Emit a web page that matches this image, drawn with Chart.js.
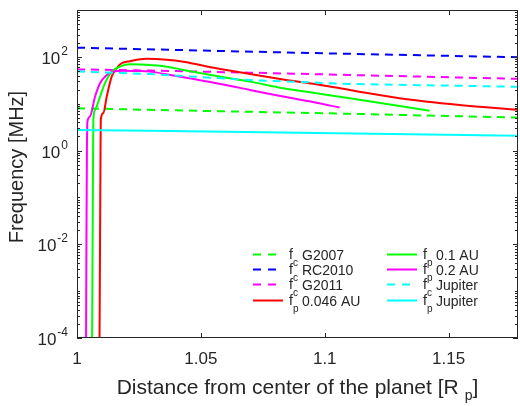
<!DOCTYPE html>
<html>
<head>
<meta charset="utf-8">
<script src="https://cdn.jsdelivr.net/npm/chart.js@4/dist/chart.umd.min.js"></script>
<style>
html, body { margin: 0; padding: 0; background: #fff; }
canvas { display: block; }
</style>
</head>
<body>
<canvas id="freqChart" width="520" height="406"></canvas>
<script>
// axis limits
const xLimits = [1, 1.178];
const yLimits = [1e-4, 1e3];
const xTickValues = [1, 1.05, 1.1, 1.15];
const xTickLabels = ['1', '1.05', '1.1', '1.15'];
const yTickExponents = [-4, -2, 0, 2];

// cutoff frequencies f_c (dashed)
const xFcG2007 = [1, 1.0294, 1.1101, 1.178];
const yFcG2007 = [8.0, 7.4, 6.1, 5.06];
const xFcRC2010 = [1, 1.09, 1.178];
const yFcRC2010 = [157, 122, 98];
const xFcG2011 = [1, 1.0294, 1.0698, 1.1101, 1.178];
const yFcG2011 = [54, 51, 46, 41, 34];
const xFcJupiter = [1, 1.0294, 1.0698, 1.1101, 1.178];
const yFcJupiter = [49, 43, 32, 26.4, 23];

// plasma frequencies f_p (solid)
const xFp046 = [1.0090, 1.0093, 1.0095, 1.0096, 1.0106, 1.0120, 1.0140, 1.0160, 1.0180, 1.0214, 1.0281, 1.0362, 1.0429, 1.0563, 1.0698, 1.0832, 1.0966, 1.1101, 1.1302, 1.1544, 1.178];
const yFp046 = [1e-5, 0.01, 1, 4.6, 6.3, 14.2, 37.8, 57, 73, 81, 91, 87, 79, 57, 43, 33, 26, 19.7, 13.1, 9.4, 7.4];
const xFp01 = [1.0060, 1.0063, 1.0065, 1.0066, 1.0073, 1.0093, 1.0113, 1.0140, 1.0173, 1.0214, 1.0281, 1.0362, 1.0429, 1.0563, 1.0698, 1.0832, 1.0966, 1.1101, 1.1423];
const yFp01 = [1e-5, 0.01, 1, 4.5, 7.4, 14.2, 27.4, 48.4, 61.8, 69.5, 68, 61.8, 52.6, 39, 29.6, 21.4, 16.7, 13.1, 7.1];
const xFp02 = [1.0036, 1.0038, 1.0040, 1.0042, 1.0052, 1.0073, 1.0093, 1.0120, 1.0146, 1.0188, 1.0242, 1.0294, 1.0429, 1.0563, 1.0698, 1.0832, 1.0966, 1.1060];
const yFp02 = [1e-5, 0.01, 1, 4.15, 5.3, 14.2, 27.4, 41, 48.4, 50.8, 50, 48.4, 36.7, 27.4, 19.7, 14.2, 10.5, 8.3];
const xFpJupiter = [1, 1.09, 1.178];
const yFpJupiter = [2.76, 2.4, 2.06];

const seriesSub = ['c', 'c', 'c', 'p', 'p', 'p', 'c', 'p'];
const seriesNames = ['G2007', 'RC2010', 'G2011', '0.046 AU', '0.1 AU', '0.2 AU', 'Jupiter', 'Jupiter'];
const seriesX = [xFcG2007, xFcRC2010, xFcG2011, xFp046, xFp01, xFp02, xFcJupiter, xFpJupiter];
const seriesY = [yFcG2007, yFcRC2010, yFcG2011, yFp046, yFp01, yFp02, yFcJupiter, yFpJupiter];
const seriesColors = ['#00ff00', '#0000ff', '#ff00ff', '#ff0000', '#00ff00', '#ff00ff', '#00ffff', '#00ffff'];
const seriesDashed = [true, true, true, false, false, false, true, false];

const textColor = '#262626';
const fontFamily = '"Liberation Sans", Arial, Helvetica, sans-serif';
const dashPattern = [8, 6];

function makeDatasets() {
    return seriesX.map((xs, i) => ({
        label: 'f' + seriesSub[i] + ' ' + seriesNames[i],
        data: xs.map((x, j) => ({x: x, y: seriesY[i][j]})),
        borderColor: seriesColors[i],
        borderWidth: 2,
        borderDash: seriesDashed[i] ? dashPattern : [],
        pointRadius: 0,
        fill: false,
        cubicInterpolationMode: seriesDashed[i] ? 'default' : 'monotone',
        order: seriesX.length - i   // later series on top, like matlab
    }));
}

// draws box, ticks, labels, titles and legend the way matlab does
const matlabAxes = {
    id: 'matlabAxes',
    afterDraw(chart) {
        const ctx = chart.ctx;
        const a = chart.chartArea;
        const xs = chart.scales.x;
        const ys = chart.scales.y;
        ctx.save();
        ctx.strokeStyle = textColor;
        ctx.fillStyle = textColor;
        ctx.lineWidth = 1;
        ctx.setLineDash([]);

        ctx.strokeRect(a.left + 0.5, a.top + 0.5, a.right - a.left - 1, a.bottom - a.top - 1);

        ctx.beginPath();
        // x ticks, bottom and top
        xTickValues.forEach(v => {
            const px = Math.round(xs.getPixelForValue(v)) + 0.5;
            if (v === xLimits[0]) return;
            ctx.moveTo(px, a.bottom); ctx.lineTo(px, a.bottom - 5);
            ctx.moveTo(px, a.top); ctx.lineTo(px, a.top + 5);
        });
        // y ticks, major on labelled decades, minor elsewhere
        for (let k = -4; k < 3; k++) {
            for (let m = 1; m <= 9; m++) {
                const v = m * Math.pow(10, k);
                const py = Math.round(ys.getPixelForValue(v)) + 0.5;
                const len = (m === 1 && yTickExponents.includes(k)) ? 5 : 3;
                ctx.moveTo(a.left, py); ctx.lineTo(a.left + len, py);
                ctx.moveTo(a.right, py); ctx.lineTo(a.right - len, py);
            }
        }
        ctx.stroke();

        // x tick labels
        ctx.font = '17px ' + fontFamily;
        ctx.textAlign = 'center';
        ctx.textBaseline = 'middle';
        xTickValues.forEach((v, i) => {
            ctx.fillText(xTickLabels[i], xs.getPixelForValue(v), a.bottom + 21);
        });

        // y tick labels 10^n
        yTickExponents.forEach(k => {
            const py = ys.getPixelForValue(Math.pow(10, k));
            const expText = String(k);
            ctx.font = '12px ' + fontFamily;
            const ew = ctx.measureText(expText).width;
            ctx.textAlign = 'left';
            ctx.textBaseline = 'alphabetic';
            const right = a.left - 9;
            ctx.fillText(expText, right - ew, py - 2);
            ctx.font = '17px ' + fontFamily;
            ctx.textAlign = 'right';
            ctx.fillText('10', right - ew - 1, py + 7);
        });

        // axis titles
        ctx.font = '20px ' + fontFamily;
        ctx.save();
        ctx.translate(17, (a.top + a.bottom) / 2 - 7);
        ctx.rotate(-Math.PI / 2);
        ctx.textAlign = 'center';
        ctx.textBaseline = 'middle';
        ctx.fillText('Frequency [MHz]', 0, 0);
        ctx.restore();

        const mainX = 'Distance from center of the planet [R';
        ctx.font = '21px ' + fontFamily;
        const w1 = ctx.measureText(mainX).width;
        const wClose = ctx.measureText(']').width;
        ctx.font = '14px ' + fontFamily;
        const wSub = ctx.measureText('p').width;
        const gap = 6;
        const total = w1 + gap + wSub + wClose;
        let tx = (a.left + a.right) / 2 - total / 2;
        const base = a.bottom + 56;
        ctx.textAlign = 'left';
        ctx.textBaseline = 'alphabetic';
        ctx.font = '21px ' + fontFamily;
        ctx.fillText(mainX, tx, base);
        ctx.font = '14px ' + fontFamily;
        ctx.fillText('p', tx + w1 + gap, base + 6);
        ctx.font = '21px ' + fontFamily;
        ctx.fillText(']', tx + w1 + gap + wSub, base);

        // legend, two columns
        const colX = [253, 387];
        const rowY = [254, 269, 284, 300];
        seriesNames.forEach((name, i) => {
            const col = Math.floor(i / 4);
            const row = i % 4;
            const lx = colX[col];
            const ly = rowY[row] + 0.5;
            ctx.strokeStyle = seriesColors[i];
            ctx.lineWidth = 2;
            ctx.setLineDash(seriesDashed[i] ? [8, 7] : []);
            ctx.beginPath();
            ctx.moveTo(lx, ly);
            ctx.lineTo(lx + 30, ly);
            ctx.stroke();
            ctx.setLineDash([]);
            ctx.fillStyle = textColor;
            ctx.textAlign = 'left';
            ctx.textBaseline = 'alphabetic';
            ctx.font = '14px ' + fontFamily;
            const fx = lx + 36;
            ctx.fillText('f', fx, ly + 4);
            ctx.font = '10px ' + fontFamily;
            ctx.fillText(seriesSub[i], fx + 4, ly + 11);
            ctx.font = '14px ' + fontFamily;
            ctx.fillText(name, fx + 13, ly + 5);
        });
        ctx.restore();
    }
};

const ctx = document.getElementById('freqChart').getContext('2d');
const chart = new Chart(ctx, {
    type: 'line',
    data: { datasets: makeDatasets() },
    options: {
        responsive: false,
        animation: false,
        devicePixelRatio: 1,
        layout: { padding: { left: 77, top: 10, right: 2, bottom: 68 } },
        scales: {
            x: { type: 'linear', min: xLimits[0], max: xLimits[1], display: false },
            y: { type: 'logarithmic', min: yLimits[0], max: yLimits[1], display: false }
        },
        plugins: {
            legend: { display: false },
            tooltip: { enabled: false }
        }
    },
    plugins: [matlabAxes]
});
</script>
</body>
</html>
